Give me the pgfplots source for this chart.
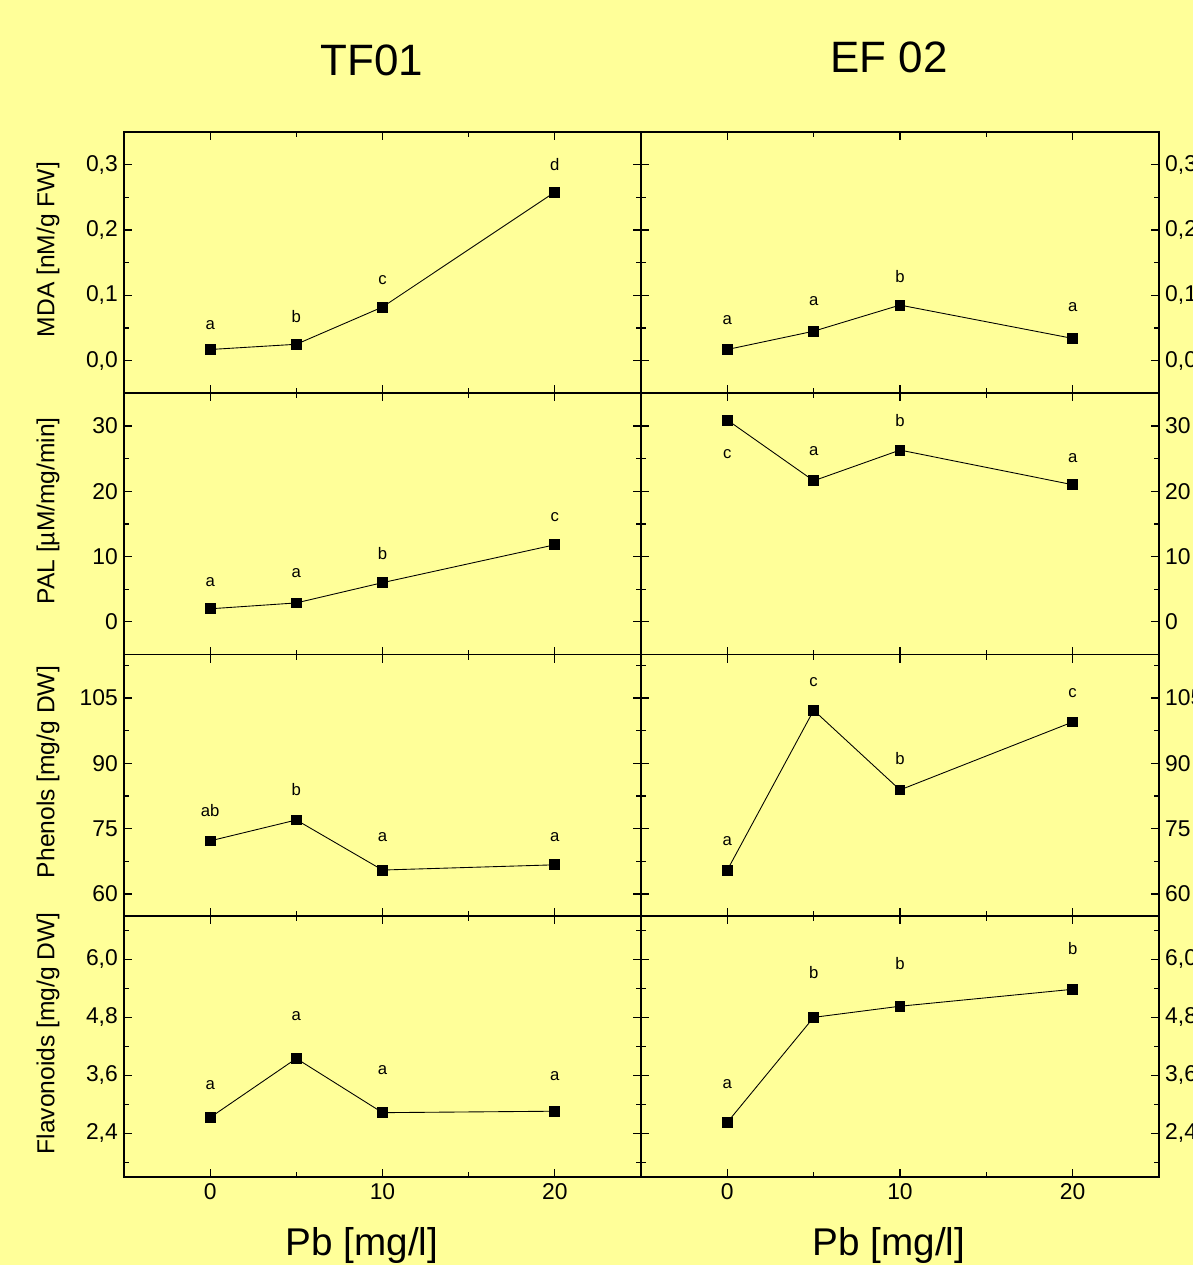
\documentclass[border=0pt]{standalone}
\usepackage{fontspec}
\setmainfont{Liberation Sans}
\usepackage{pgfplots}
\pgfplotsset{compat=1.18}
\definecolor{bg}{RGB}{255,255,153}

\tikzset{lt/.style={font=\fontsize{9.5}{11}\selectfont}}
\pgfplotsset{
  panel/.style={
    scale only axis, anchor=north west,
    xmin=-5, xmax=25,
    xtick={0,10,20}, minor xtick={5,15},
    tick align=inside,
    major tick length=0.16cm, minor tick length=0.1cm,
    every tick/.style={black, line width=0.7pt},
    axis line style={line width=1pt},
    ticklabel style={font=\fontsize{13}{15}\selectfont},
    /pgf/number format/assume math mode=true,
    label style={font=\fontsize{14}{16}\selectfont},
    ylabel style={at={(axis description cs:-0.147,0.55)}, anchor=center},
    clip=false,
  },
  leftp/.style={panel, width=10.34cm, height=5.225cm},
  rightp/.style={panel, width=10.36cm, height=5.225cm, yticklabel pos=right},
  nox/.style={xticklabels={}},
  dec/.style={yticklabel style={/pgf/number format/.cd, use comma, fixed, fixed zerofill, precision=1}},
  int/.style={yticklabel style={/pgf/number format/.cd, fixed, precision=0}},
  ser/.style={black, line width=0.5pt, mark=square*, mark size=2.8pt},
}

\begin{document}
\begin{tikzpicture}
\fill[bg] (0,0) rectangle (23.86cm,-25.3cm);

\node[font=\fontsize{25}{30}\selectfont] at (7.44cm,-1.2cm) {TF01};
\node[font=\fontsize{25}{30}\selectfont] at (17.78cm,-1.14cm) {EF 02};

% ---- MDA ----
\begin{axis}[leftp, nox, dec, at={(2.48cm,-2.64cm)},
  ymin=-0.05, ymax=0.35, ytick={0,0.1,0.2,0.3}, minor ytick={0.05,0.15,0.25},
  ylabel={MDA [nM/g FW]}]
\addplot[ser] coordinates {(0,0.017)(5,0.025)(10,0.082)(20,0.258)};
\node[lt] at (0,0.054) {a};
\node[lt] at (5,0.068) {b};
\node[lt] at (10,0.123) {c};
\node[lt] at (20,0.300) {d};
\end{axis}
\begin{axis}[rightp, nox, dec, at={(12.82cm,-2.64cm)},
  ymin=-0.05, ymax=0.35, ytick={0,0.1,0.2,0.3}, minor ytick={0.05,0.15,0.25}]
\addplot[ser] coordinates {(0,0.017)(5,0.045)(10,0.085)(20,0.034)};
\node[lt] at (0,0.062) {a};
\node[lt] at (5,0.091) {a};
\node[lt] at (10,0.128) {b};
\node[lt] at (20,0.082) {a};
\end{axis}

% ---- PAL ----
\begin{axis}[leftp, nox, int, at={(2.48cm,-7.865cm)},
  ymin=-5, ymax=35, ytick={0,10,20,30}, minor ytick={5,15,25},
  ylabel={PAL [µM/mg/min]}]
\addplot[ser] coordinates {(0,2.0)(5,2.9)(10,6.0)(20,11.8)};
\node[lt] at (0,6.1) {a};
\node[lt] at (5,7.5) {a};
\node[lt] at (10,10.4) {b};
\node[lt] at (20,16.1) {c};
\end{axis}
\begin{axis}[rightp, nox, int, at={(12.82cm,-7.865cm)},
  ymin=-5, ymax=35, ytick={0,10,20,30}, minor ytick={5,15,25}]
\addplot[ser] coordinates {(0,30.9)(5,21.6)(10,26.3)(20,21.0)};
\node[lt] at (0,25.7) {c};
\node[lt] at (5,26.2) {a};
\node[lt] at (10,30.8) {b};
\node[lt] at (20,25.1) {a};
\end{axis}

% ---- Phenols ----
\begin{axis}[leftp, nox, int, at={(2.48cm,-13.09cm)},
  ymin=55, ymax=115, ytick={60,75,90,105}, minor ytick={67.5,82.5,97.5,112.5},
  ylabel={Phenols [mg/g DW]}]
\addplot[ser] coordinates {(0,72.2)(5,77.0)(10,65.5)(20,66.7)};
\node[lt] at (0,79.1) {ab};
\node[lt] at (5,83.9) {b};
\node[lt] at (10,73.1) {a};
\node[lt] at (20,73.1) {a};
\end{axis}
\begin{axis}[rightp, nox, int, at={(12.82cm,-13.09cm)},
  ymin=55, ymax=115, ytick={60,75,90,105}, minor ytick={67.5,82.5,97.5,112.5}]
\addplot[ser] coordinates {(0,65.5)(5,102.2)(10,83.9)(20,99.5)};
\node[lt] at (0,72.2) {a};
\node[lt] at (5,108.7) {c};
\node[lt] at (10,91.2) {b};
\node[lt] at (20,106.1) {c};
\end{axis}

% ---- Flavonoids ----
\begin{axis}[leftp, dec, at={(2.48cm,-18.315cm)},
  ymin=1.5, ymax=6.9, ytick={2.4,3.6,4.8,6.0}, minor ytick={1.8,3.0,4.2,5.4,6.6},
  ylabel={Flavonoids [mg/g DW]}]
\addplot[ser] coordinates {(0,2.73)(5,3.95)(10,2.83)(20,2.86)};
\node[lt] at (0,3.39) {a};
\node[lt] at (5,4.82) {a};
\node[lt] at (10,3.70) {a};
\node[lt] at (20,3.58) {a};
\end{axis}
\begin{axis}[rightp, dec, at={(12.82cm,-18.315cm)},
  ymin=1.5, ymax=6.9, ytick={2.4,3.6,4.8,6.0}, minor ytick={1.8,3.0,4.2,5.4,6.6}]
\addplot[ser] coordinates {(0,2.63)(5,4.80)(10,5.03)(20,5.38)};
\node[lt] at (0,3.43) {a};
\node[lt] at (5,5.73) {b};
\node[lt] at (10,5.92) {b};
\node[lt] at (20,6.23) {b};
\end{axis}

\node[font=\fontsize{22}{26}\selectfont] at (7.24cm,-24.9cm) {Pb [mg/l]};
\node[font=\fontsize{22}{26}\selectfont] at (17.78cm,-24.9cm) {Pb [mg/l]};

\pgfresetboundingbox
\path[use as bounding box] (0,0) rectangle (23.86cm,-25.3cm);
\end{tikzpicture}
\end{document}
